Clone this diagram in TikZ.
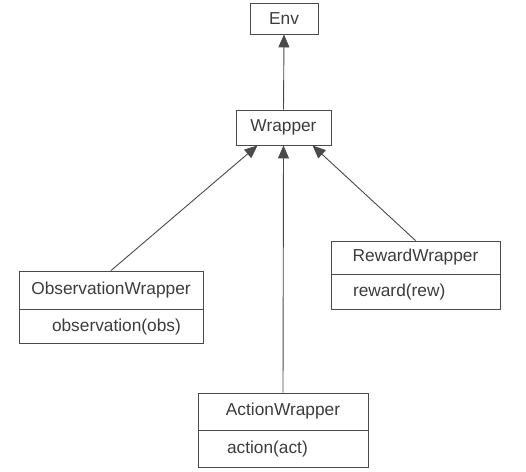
\documentclass[tikz,border=0pt]{standalone}
\usepackage{fontspec}
\setmainfont{Liberation Sans}
\usepackage{tikz}
\usetikzlibrary{arrows.meta,positioning}
\definecolor{uline}{HTML}{4A4A4A}
\definecolor{utext}{HTML}{3C3C3C}

\begin{document}
\begin{tikzpicture}[
  x=1pt, y=-1pt,
  font=\fontsize{17.3}{20}\selectfont\color{utext},
  cls/.style={draw=uline, line width=0.9pt, inner sep=0pt, minimum height=#1},
  meth/.style={draw=uline, line width=0.9pt, inner ysep=0pt, minimum height=#1, align=left},
  inh/.style={draw=uline, line width=0.9pt, -{Triangle[length=13pt,width=11pt]}},
]
% Canvas: one unit = one pixel of the 526 x 471 frame
\useasboundingbox (0,0) rectangle (526,471);

% Base classes
\node[cls=31pt, minimum width=68pt] (env) at (284,18.5) {Env};
\node[cls=35pt, minimum width=95pt] (wrap) at (283.5,127.5) {Wrapper};

% Specialised wrappers: title part + method part
\node[cls=38pt, minimum width=184pt] (obsT) at (111,290) {ObservationWrapper};
\node[meth=34pt, inner xsep=33pt, text width=118pt, below=0pt of obsT] (obsM) {observation(obs)};

\node[cls=33pt, minimum width=169pt] (rewT) at (415.5,257.5) {RewardWrapper};
\node[meth=35pt, inner xsep=22pt, text width=125pt, below=0pt of rewT] (rewM) {reward(rew)};

\node[cls=37pt, minimum width=170pt] (actT) at (283,411.5) {ActionWrapper};
\node[meth=37pt, inner xsep=29pt, text width=112pt, below=0pt of actT] (actM) {action(act)};

% Inheritance arrows
\draw[inh] (wrap.north) -- (env.south);
\draw[inh] (obsT.north) -- ([xshift=-26pt]wrap.south);
\draw[inh] (actT.north) -- (wrap.south);
\draw[inh] (rewT.north) -- ([xshift=29pt]wrap.south);
\end{tikzpicture}
\end{document}
